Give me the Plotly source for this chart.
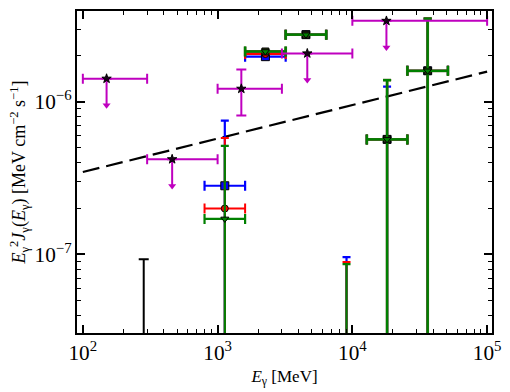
import numpy as np
import plotly.graph_objects as go

# ---------------- data ----------------
# energy bins (MeV)
bin_x = [1131, 2263, 4525, 9051, 18102, 36204]
bin_lo = [800, 1600, 3200, 6400, 12800, 25600]
bin_hi = [1600, 3200, 6400, 12800, 25600, 51200]

# flux values (MeV cm^-2 s^-1); 0 = below plotted range
blue_y = [2.82e-7, 1.98e-6, 2.76e-6, 0, 5.68e-7, 1.60e-6]
blue_up = [7.54e-7, 1.98e-6, 2.76e-6, 9.6e-8, 1.26e-6, 3.52e-6]
blue_dn = [0, 1.98e-6, 2.76e-6, 0, 0, 0]

red_y = [2.00e-7, 2.06e-6, 2.76e-6, 0, 5.68e-7, 1.60e-6]
red_up = [5.79e-7, 2.06e-6, 2.76e-6, 8.93e-8, 1.39e-6, 3.52e-6]
red_dn = [0, 2.06e-6, 2.76e-6, 0, 0, 0]

olive_y = [None, 2.14e-6, 2.76e-6, None, 5.68e-7, 1.60e-6]
olive_up = [None, 2.14e-6, 2.76e-6, None, 1.39e-6, 3.52e-6]
olive_dn = [None, 2.14e-6, 2.76e-6, None, 0, 0]

green_y = [1.71e-7, 2.14e-6, 2.76e-6, 0, 5.68e-7, 1.60e-6]
green_up = [5.15e-7, 2.14e-6, 2.76e-6, 8.63e-8, 1.39e-6, 3.52e-6]
green_dn = [0, 2.14e-6, 2.76e-6, 0, 0, 0]

# black single upper bar
black_x = [283]
black_y = [0]
black_up = [9.29e-8]

# magenta stars (upper limits + one detection)
mag_x = [150, 460, 1500, 4630, 17900]
mag_lo = [100, 300, 1000, 3000, 10000]
mag_hi = [300, 1000, 3000, 10000, 100000]
mag_y = [1.42e-6, 4.21e-7, 1.22e-6, 2.08e-6, 3.40e-6]
mag_up = [1.42e-6, 4.21e-7, 1.63e-6, 2.08e-6, 3.40e-6]
mag_dn = [1.42e-6, 4.21e-7, 8.15e-7, 2.08e-6, 3.40e-6]
mag_ul = [True, True, False, True, True]

# dashed model line
line_x = [1e2, 1e5]
line_y = [3.47e-7, 1.58e-6]

# ---------------- styles ----------------
FLOOR = 1e-12
ARROW_DEC = 0.175
FONT = "Liberation Serif"

fig = go.Figure()

fig.add_trace(go.Scatter(x=line_x, y=line_y, mode="lines",
                         line=dict(color="black", width=2.2, dash="17px,7px"),
                         showlegend=False, hoverinfo="skip"))


def add_series(xs, ys, up, dn, color, symbol, lw, cap_w, mfill, msize=7):
    xx, yy, ep, em, exm, exp_ = [], [], [], [], [], []
    for i, y in enumerate(ys):
        if y is None:
            continue
        yv = y if y > 0 else FLOOR
        lo = dn[i] if dn[i] > 0 else FLOOR
        xx.append(xs[i])
        yy.append(yv)
        ep.append(up[i] - yv)
        em.append(yv - lo)
        exm.append(xs[i] - bin_lo[i])
        exp_.append(bin_hi[i] - xs[i])
    fig.add_trace(go.Scatter(
        x=xx, y=yy, mode="markers",
        marker=dict(symbol=symbol, size=msize, color=mfill,
                    line=dict(color="black", width=1)),
        error_y=dict(type="data", symmetric=False, array=ep, arrayminus=em,
                     color=color, thickness=lw, width=4),
        error_x=dict(type="data", symmetric=False, array=exp_, arrayminus=exm,
                     color=color, thickness=lw, width=cap_w),
        showlegend=False, hoverinfo="skip"))


add_series(bin_x, blue_y, blue_up, blue_dn, "#0000ff", "square", 2.2, 5, "#0000ff", 8)
add_series(bin_x, red_y, red_up, red_dn, "#ff0000", "circle", 2.0, 5, "#ff0000", 7)
add_series(bin_x, olive_y, olive_up, olive_dn, "#4f5f22", "square", 2.8, 5, "#2a3a10", 7)
add_series(bin_x, green_y, green_up, green_dn, "#008000", "triangle-down", 2.2, 5, "#008000", 7)

# black bar
fig.add_trace(go.Scatter(
    x=black_x, y=[FLOOR if v <= 0 else v for v in black_y], mode="markers",
    marker=dict(size=1, color="black"),
    error_y=dict(type="data", symmetric=False,
                 array=[black_up[0] - FLOOR], arrayminus=[0],
                 color="black", thickness=2, width=5),
    showlegend=False, hoverinfo="skip"))

# magenta arrows
MAG = "#bf00bf"
ax_, ay_, tx, ty = [], [], [], []
for i in range(len(mag_x)):
    if mag_ul[i]:
        tip = mag_y[i] * 10 ** (-ARROW_DEC)
        ax_ += [mag_x[i], mag_x[i], None]
        ay_ += [mag_y[i], tip, None]
        tx.append(mag_x[i])
        ty.append(tip)
fig.add_trace(go.Scatter(x=ax_, y=ay_, mode="lines",
                         line=dict(color=MAG, width=2),
                         showlegend=False, hoverinfo="skip"))
fig.add_trace(go.Scatter(x=tx, y=ty, mode="markers",
                         marker=dict(symbol="triangle-down", size=7, color=MAG,
                                     line=dict(width=0)),
                         showlegend=False, hoverinfo="skip"))

fig.add_trace(go.Scatter(
    x=mag_x, y=mag_y, mode="markers",
    marker=dict(symbol="star", size=7, color="#1a001a",
                line=dict(color="black", width=1)),
    error_x=dict(type="data", symmetric=False,
                 array=[h - x for h, x in zip(mag_hi, mag_x)],
                 arrayminus=[x - l for l, x in zip(mag_lo, mag_x)],
                 color=MAG, thickness=2, width=5),
    error_y=dict(type="data", symmetric=False,
                 array=[u - y for u, y in zip(mag_up, mag_y)],
                 arrayminus=[y - d for d, y in zip(mag_dn, mag_y)],
                 color=MAG, thickness=2, width=5),
    showlegend=False, hoverinfo="skip"))

axis_common = dict(
    type="log", dtick=1, exponentformat="power",
    showline=True, linecolor="black", linewidth=2, mirror="allticks",
    ticks="inside", ticklen=8, tickwidth=1.5, tickcolor="black",
    showgrid=False, zeroline=False,
    tickfont=dict(family=FONT, size=17, color="black"),
    minor=dict(ticks="inside", ticklen=4, tickwidth=1, tickcolor="black",
               dtick="D1", showgrid=False),
)

fig.update_layout(
    width=510, height=392,
    margin=dict(l=77, r=10, t=9, b=51),
    paper_bgcolor="white", plot_bgcolor="white",
    font=dict(family=FONT, size=16, color="black"),
    xaxis=dict(axis_common, range=[np.log10(90.5), np.log10(108700)],
               title=dict(text="<i>E</i><sub>γ</sub> [MeV]", standoff=6,
                          font=dict(family=FONT, size=17))),
    yaxis=dict(axis_common, range=[-7.515, -5.404],
               title=dict(text="<i>E</i><sub>γ</sub><sup>2</sup><i>J</i><sub>γ</sub>(<i>E</i><sub>γ</sub>) [MeV cm<sup>−2</sup> s<sup>−1</sup>]",
                          standoff=4, font=dict(family=FONT, size=18))),
)

fig.write_html("out.html")
